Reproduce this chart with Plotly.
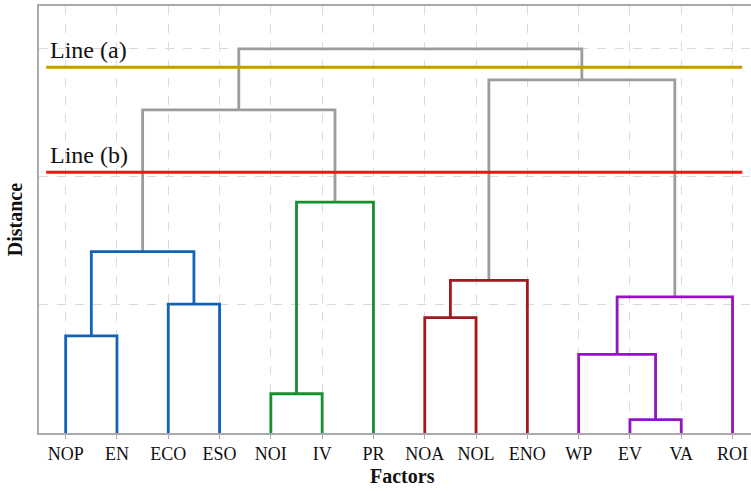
import plotly.graph_objects as go

# ---- data ----
labels = ["NOP", "EN", "ECO", "ESO", "NOI", "IV", "PR",
          "NOA", "NOL", "ENO", "WP", "EV", "VA", "ROI"]
# merges: clusters 0..13 are leaves, merge k creates cluster 14+k
merge_left = [0, 2, 14, 4, 17, 16, 7, 20, 11, 10, 23, 21, 19]
merge_right = [1, 3, 15, 5, 6, 18, 8, 9, 12, 22, 13, 24, 25]
merge_height = [0.758, 1.005, 1.415, 0.306, 1.80, 2.52,
                0.90, 1.19, 0.104, 0.613, 1.062, 2.754, 2.995]
merge_group = ["blue", "blue", "blue", "green", "green", "gray",
               "red", "red", "purple", "purple", "purple", "gray", "gray"]
cut_names = ["Line (a)", "Line (b)"]
cut_heights = [2.853, 2.034]

# ---- style ----
group_colors = {"blue": "#1262b5", "green": "#14902e", "red": "#a1191c",
                "purple": "#9414c2", "gray": "#9c9c9c"}
cut_colors = ["#c99a00", "#ff1010"]
FONT = "Liberation Serif, Times New Roman, serif"

n = len(labels)
leaf_x = [5 + 10 * i for i in range(n)]
pos = {i: leaf_x[i] for i in range(n)}
hgt = {i: 0.0 for i in range(n)}

fig = go.Figure()
segs = {}
for k, (a, b, h, g) in enumerate(zip(merge_left, merge_right, merge_height, merge_group)):
    xl, xr = pos[a], pos[b]
    segs.setdefault(g, ([], []))
    xs, ys = segs[g]
    xs += [xl, xl, xr, xr, None]
    ys += [hgt[a], h, h, hgt[b], None]
    pos[n + k] = (xl + xr) / 2
    hgt[n + k] = h

for g in ["gray", "blue", "green", "red", "purple"]:
    xs, ys = segs[g]
    fig.add_trace(go.Scatter(x=xs, y=ys, mode="lines",
                             line=dict(color=group_colors[g], width=2.8),
                             hoverinfo="skip", showlegend=False))

x_start = leaf_x[0] - 3.8
x_end = leaf_x[-1] + 1.9
for name, h, c in zip(cut_names, cut_heights, cut_colors):
    fig.add_trace(go.Scatter(x=[x_start, x_end], y=[h, h], mode="lines",
                             line=dict(color=c, width=3),
                             hoverinfo="skip", showlegend=False))
    fig.add_annotation(x=leaf_x[0] - 3.4, y=h, xref="x", yref="y",
                       text=name, showarrow=False, xanchor="left",
                       yanchor="bottom", yshift=2,
                       font=dict(family=FONT, size=24, color="#111111"))

fig.add_annotation(x=0.51, y=-0.1, xref="paper", yref="paper",
                   text="<b>Factors</b>", showarrow=False,
                   xanchor="center", yanchor="middle",
                   font=dict(family=FONT, size=20, color="#111111"))
fig.add_annotation(x=-0.034, y=0.5, xref="paper", yref="paper",
                   text="<b>Distance</b>", showarrow=False, textangle=-90,
                   xanchor="center", yanchor="middle",
                   font=dict(family=FONT, size=20, color="#111111"))

fig.update_layout(
    width=751, height=491,
    margin=dict(l=39, r=0, t=6, b=58),
    plot_bgcolor="white", paper_bgcolor="white",
    font=dict(family=FONT, size=18, color="#111111"),
    xaxis=dict(range=[-0.2, 138.6], tickvals=leaf_x, ticktext=labels,
               showgrid=True, gridcolor="#dadada", griddash="dash", gridwidth=1,
               zeroline=False, showline=True, linecolor="#aaaaaa", linewidth=1.5,
               mirror=True, ticks="outside", ticklen=4, tickcolor="#aaaaaa",
               tickfont=dict(family=FONT, size=18, color="#111111")),
    yaxis=dict(range=[0, 3.33], tickvals=[1, 2, 3], showticklabels=False,
               showgrid=True, gridcolor="#dadada", griddash="dash", gridwidth=1,
               zeroline=False, showline=True, linecolor="#aaaaaa", linewidth=1.5,
               ticks=""),
)

fig.write_html("out.html")
